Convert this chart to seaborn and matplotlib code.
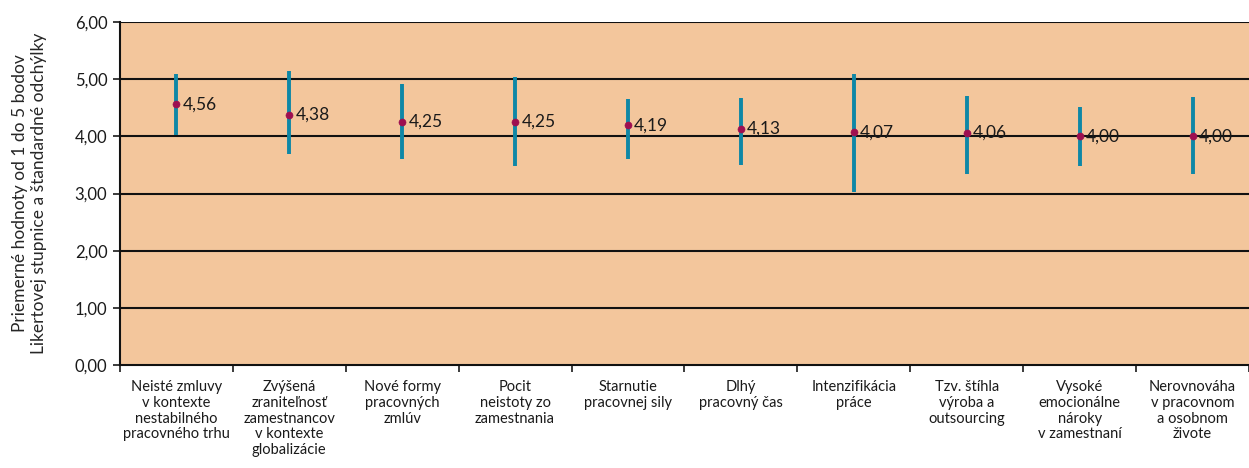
import numpy as np
import pandas as pd
import matplotlib
matplotlib.use("Agg")
import matplotlib.pyplot as plt
import seaborn as sns
from matplotlib.ticker import FixedLocator, FuncFormatter

categories = [
    "Neisté zmluvy\nv kontexte\nnestabilného\npracovného trhu",
    "Zvýšená\nzraniteľnosť\nzamestnancov\nv kontexte\nglobalizácie",
    "Nové formy\npracovných\nzmlúv",
    "Pocit\nneistoty zo\nzamestnania",
    "Starnutie\npracovnej sily",
    "Dlhý\npracovný čas",
    "Intenzifikácia\npráce",
    "Tzv. štíhla\nvýroba a\noutsourcing",
    "Vysoké\nemocionálne\nnároky\nv zamestnaní",
    "Nerovnováha\nv pracovnom\na osobnom\nživote",
]
means = [4.56, 4.38, 4.25, 4.25, 4.19, 4.13, 4.07, 4.06, 4.00, 4.00]
errLow = [4.03, 3.69, 3.60, 3.49, 3.61, 3.50, 3.02, 3.35, 3.49, 3.35]
errHigh = [5.09, 5.14, 4.91, 5.04, 4.65, 4.67, 5.09, 4.70, 4.51, 4.68]
yTicks = [0, 1, 2, 3, 4, 5, 6]
yLabel = "Priemerné hodnoty od 1 do 5 bodov\nLikertovej stupnice a štandardné odchýlky"

bgColor = "#F3C69C"
barColor = "#0E87A6"
dotColor = "#9E0F50"

sns.set_theme(style="white")
plt.rcParams["font.family"] = ["Lato", "DejaVu Sans"]

df = pd.DataFrame({"idx": np.arange(len(categories)), "mean": means,
                   "low": errLow, "high": errHigh})

fig = plt.figure(figsize=(12.49, 4.68), dpi=100)
ax = fig.add_axes([0.096, 0.22, 0.904, 0.733])
ax.set_facecolor(bgColor)

for y in yTicks[1:]:
    ax.axhline(y, color="#111111", linewidth=1.5, zorder=1)

ax.vlines(df["idx"], df["low"], df["high"], color=barColor, linewidth=2.8, zorder=2)
sns.scatterplot(data=df, x="idx", y="mean", ax=ax, color=dotColor, s=26,
                edgecolor=dotColor, zorder=3, legend=False)

for i, v in zip(df["idx"], df["mean"]):
    ax.annotate(f"{v:.2f}".replace(".", ","), (i, v), xytext=(4.5, 0),
                textcoords="offset points", va="center", ha="left",
                fontsize=12.5, color="#1a1a1a")

ax.set_xlim(-0.5, len(categories) - 0.5)
ax.set_ylim(0, 6)
ax.set_yticks(yTicks)
ax.yaxis.set_major_formatter(FuncFormatter(lambda v, p: f"{v:.2f}".replace(".", ",")))
ax.tick_params(axis="y", which="major", length=5, width=1.2, direction="out",
               left=True, labelsize=12, colors="#1a1a1a", pad=4)

ax.xaxis.set_major_locator(FixedLocator(np.arange(-0.5, len(categories), 1.0)))
ax.xaxis.set_minor_locator(FixedLocator(np.arange(len(categories))))
ax.set_xticklabels([], minor=False)
ax.set_xticklabels(categories, minor=True, fontsize=10.5, linespacing=1.15)
ax.tick_params(axis="x", which="major", length=5, width=1.2, direction="out",
               bottom=True, colors="#1a1a1a")
ax.tick_params(axis="x", which="minor", length=0, pad=11, colors="#1a1a1a")
for lbl in ax.get_xticklabels(minor=True):
    lbl.set_verticalalignment("top")
    lbl.set_horizontalalignment("center")

ax.set_xlabel("")
ax.set_ylabel(yLabel, fontsize=12.5, labelpad=20, linespacing=1.2)

for side in ["top", "right"]:
    ax.spines[side].set_visible(False)
ax.spines["left"].set_color("#111111")
ax.spines["left"].set_linewidth(1.5)
ax.spines["bottom"].set_color("#111111")
ax.spines["bottom"].set_linewidth(1.5)

fig.savefig("out.png", dpi=100, facecolor="white")
